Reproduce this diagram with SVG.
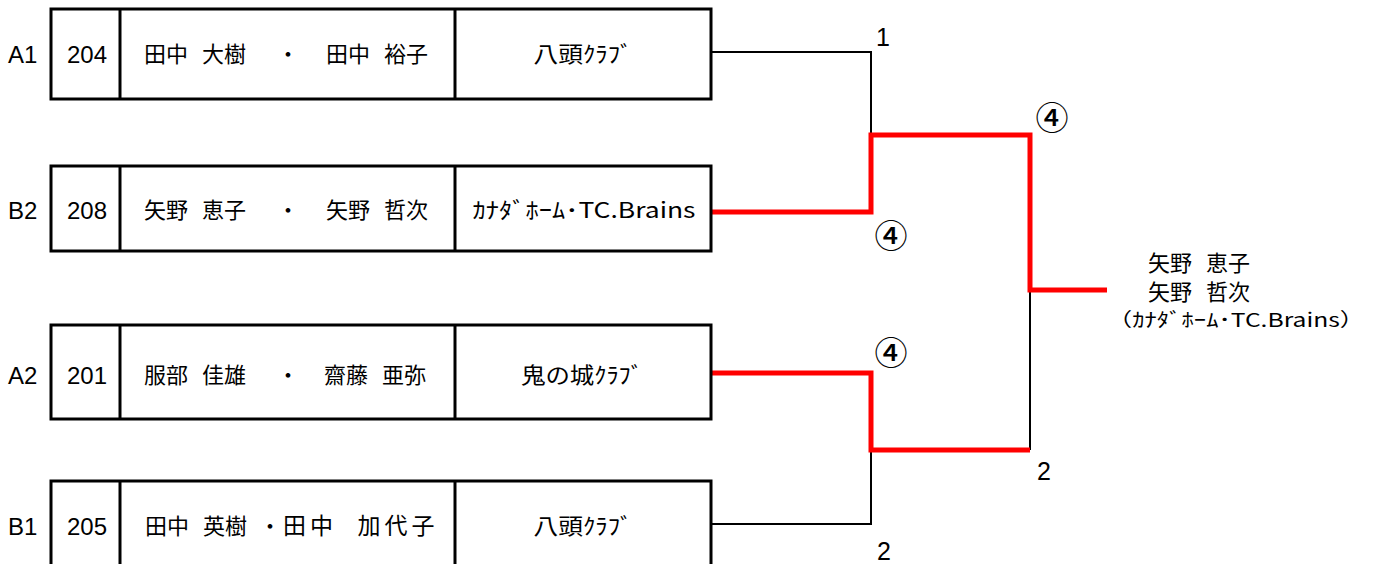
<svg xmlns="http://www.w3.org/2000/svg" width="1373" height="564" viewBox="0 0 1373 564">
<style>
.box{fill:#fff;stroke:#000;stroke-width:3}
.div{stroke:#000;stroke-width:3}
.t{font-family:"Liberation Sans","Noto Sans CJK JP",sans-serif;font-size:24px;fill:#000}
.j{font-family:"Liberation Sans","Noto Sans CJK JP",sans-serif;font-size:22px;fill:#000;word-spacing:8px}
.c{font-family:"Noto Sans CJK JP","Liberation Sans",sans-serif;font-size:22px;fill:#000;text-anchor:middle}
.num{font-family:"Liberation Sans",sans-serif;font-size:25px;fill:#000;text-anchor:middle}
.circ{font-family:"Noto Sans CJK JP",sans-serif;font-size:33px;font-weight:500;fill:#000;text-anchor:middle;dominant-baseline:central}
.blk{fill:none;stroke:#000;stroke-width:2}
.red{fill:none;stroke:#f00;stroke-width:5}
.mid{text-anchor:middle}
.sm{font-size:19px}
.wide{font-size:23px;letter-spacing:4px;word-spacing:10px}
</style>
<g id="connectors">
<path class="blk" d="M711 52 H871 V135"/>
<path class="blk" d="M711 524 H871 V450"/>
<path class="blk" d="M1030 450 V290"/>
<path class="red" d="M711 212 H871 V135 H1030 V290 H1107"/>
<path class="red" d="M711 373 H871 V450 H1030"/>
</g>
<g id="entry-A1">
<text class="t" x="8" y="63">A1</text>
<rect class="box" x="51" y="9" width="660" height="90"/>
<line class="div" x1="120" y1="9" x2="120" y2="99"/>
<line class="div" x1="455" y1="9" x2="455" y2="99"/>
<text class="t mid" x="87" y="63">204</text>
<text class="j" x="144" y="62">田中 大樹</text>
<text class="j mid" x="288" y="62">・</text>
<text class="j" x="326" y="62">田中 裕子</text>
<text class="c" x="583" y="62" textLength="99" lengthAdjust="spacingAndGlyphs">八頭ｸﾗﾌﾞ</text>
</g>
<g id="entry-B2">
<text class="t" x="8" y="219">B2</text>
<rect class="box" x="51" y="166" width="660" height="85"/>
<line class="div" x1="120" y1="166" x2="120" y2="251"/>
<line class="div" x1="455" y1="166" x2="455" y2="251"/>
<text class="t mid" x="87" y="219">208</text>
<text class="j" x="144" y="218">矢野 恵子</text>
<text class="j mid" x="288" y="218">・</text>
<text class="j" x="326" y="218">矢野 哲次</text>
<text class="c" x="584" y="218" textLength="223" lengthAdjust="spacingAndGlyphs">ｶﾅﾀﾞﾎｰﾑ･TC.Brains</text>
</g>
<g id="entry-A2">
<text class="t" x="8" y="384">A2</text>
<rect class="box" x="51" y="325" width="660" height="94"/>
<line class="div" x1="120" y1="325" x2="120" y2="419"/>
<line class="div" x1="455" y1="325" x2="455" y2="419"/>
<text class="t mid" x="87" y="384">201</text>
<text class="j" x="144" y="383">服部 佳雄</text>
<text class="j mid" x="288" y="383">・</text>
<text class="j" x="324" y="383">齋藤 亜弥</text>
<text class="c" x="582" y="383" textLength="122" lengthAdjust="spacingAndGlyphs">鬼の城ｸﾗﾌﾞ</text>
</g>
<g id="entry-B1">
<text class="t" x="8" y="535">B1</text>
<rect class="box" x="51" y="481" width="660" height="100"/>
<line class="div" x1="120" y1="481" x2="120" y2="581"/>
<line class="div" x1="455" y1="481" x2="455" y2="581"/>
<text class="t mid" x="87" y="535">205</text>
<text class="j" x="145" y="534">田中 英樹</text>
<text class="j mid" x="270" y="534">・</text>
<text class="j wide" x="283" y="534">田中 加代子</text>
<text class="c" x="583" y="534" textLength="99" lengthAdjust="spacingAndGlyphs">八頭ｸﾗﾌﾞ</text>
</g>
<g id="labels">
<text class="num" x="883" y="46">1</text>
<text class="num" x="884" y="560">2</text>
<text class="num" x="1044" y="480">2</text>
<text class="circ" x="1052" y="116">④</text>
<text class="circ" x="891" y="234">④</text>
<text class="circ" x="891" y="351">④</text>
</g>
<g id="winner">
<text class="j" x="1148" y="271">矢野 恵子</text>
<text class="j" x="1148" y="300">矢野 哲次</text>
<text class="c sm" x="1236" y="327" textLength="257" lengthAdjust="spacingAndGlyphs">（ｶﾅﾀﾞﾎｰﾑ･TC.Brains）</text>
</g>
</svg>
